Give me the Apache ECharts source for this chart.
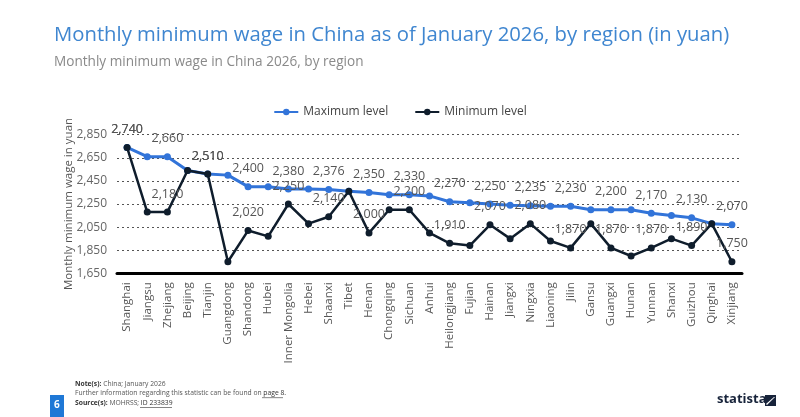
<!DOCTYPE html>
<html>
<head>
<meta charset="utf-8">
<script src="https://cdn.jsdelivr.net/npm/echarts@6/dist/echarts.min.js"></script>
<style>
html,body{margin:0;padding:0;background:#fff;}
#c{width:800px;height:417px;}
</style>
</head>
<body>
<div id="c"></div>
<script>
const regions = ["Shanghai","Jiangsu","Zhejiang","Beijing","Tianjin","Guangdong","Shandong","Hubei","Inner Mongolia","Hebei","Shaanxi","Tibet","Henan","Chongqing","Sichuan","Anhui","Heilongjiang","Fujian","Hainan","Jiangxi","Ningxia","Liaoning","Jilin","Gansu","Guangxi","Hunan","Yunnan","Shanxi","Guizhou","Qinghai","Xinjiang"];
const maximumLevel = [2740,2660,2660,2540,2510,2500,2400,2400,2380,2380,2376,2360,2350,2330,2330,2320,2270,2260,2250,2240,2235,2230,2230,2200,2200,2200,2170,2150,2130,2080,2070];
const minimumLevel = [2740,2180,2180,2540,2510,1750,2020,1970,2250,2080,2140,2360,2000,2200,2200,2000,1910,1890,2070,1950,2080,1930,1870,2080,1870,1800,1870,1950,1890,2080,1750];
const yTicks = [1650,1850,2050,2250,2450,2650,2850];

const font = 'Open Sans, Noto Sans, sans-serif';
const fmt = v => v.toLocaleString('en-US');
const labelFmt = p => (p.dataIndex % 2 === 0) ? fmt(p.value) : '';

const chart = echarts.init(document.getElementById('c'), null, {renderer:'canvas'});
chart.setOption({
  animation:false,
  backgroundColor:'#fff',
  title:[
    {text:'Monthly minimum wage in China as of January 2026, by region (in yuan)', left:49, top:20,
     textStyle:{color:'#3f86d0', fontSize:20.3, fontWeight:'normal', fontFamily:font}},
    {text:'Monthly minimum wage in China 2026, by region', left:49, top:50,
     textStyle:{color:'#8a8a8a', fontSize:13.6, fontWeight:'normal', fontFamily:font}}
  ],
  legend:{
    top:101, left:'center', itemWidth:24, itemHeight:8, itemGap:26,
    textStyle:{color:'#444', fontSize:12, fontFamily:font},
    data:['Maximum level','Minimum level']
  },
  grid:{left:117, right:58, top:134.7, bottom:143.7, containLabel:false},
  xAxis:{
    type:'category', data:regions, boundaryGap:true,
    axisLine:{show:true, lineStyle:{color:'#000', width:3}},
    axisTick:{show:false},
    axisLabel:{rotate:90, interval:0, color:'#555', fontSize:11.5, fontFamily:font, margin:9}
  },
  yAxis:{
    type:'value', min:1650, max:2850, interval:200,
    name:'Monthly minimum wage in yuan', nameLocation:'middle', nameGap:42, nameMoveOverlap:false,
    nameTextStyle:{color:'#555', fontSize:11.5, fontFamily:font},
    axisLine:{show:false}, axisTick:{show:false},
    axisLabel:{color:'#666', fontSize:12, fontFamily:font, margin:10, formatter:v=>fmt(v)},
    splitLine:{show:true, lineStyle:{color:'#555', type:[2,3], width:1}}
  },
  series:[
    {name:'Maximum level', type:'line', data:maximumLevel, symbol:'circle', symbolSize:7,
     itemStyle:{color:'#3274d9'}, lineStyle:{color:'#3274d9', width:3},
     label:{show:true, position:'top', distance:8, color:'#555', fontSize:12.5, fontFamily:font, formatter:labelFmt}, z:2},
    {name:'Minimum level', type:'line', data:minimumLevel, symbol:'circle', symbolSize:7,
     itemStyle:{color:'#0f1d2c'}, lineStyle:{color:'#0f1d2c', width:2.5},
     label:{show:true, position:'top', distance:8, color:'#555', fontSize:12.5, fontFamily:font, formatter:labelFmt}, z:3}
  ],
  graphic:[
    {type:'rect', left:50, top:395, shape:{width:14, height:22}, style:{fill:'#1f78d6'}},
    {type:'text', left:54, top:400, style:{text:'6', fill:'#fff', font:'bold 10px '+font}},
    {type:'text', left:75, top:379, style:{
      text:'{b|Note(s):} China; January 2026\nFurther information regarding this statistic can be found on {u|page 8.}\n{b|Source(s):} MOHRSS; {u|ID 233839}',
      fill:'#555', font:'6.75px '+font, lineHeight:9.5,
      rich:{b:{fontWeight:'bold', fill:'#333', fontSize:6.75, fontFamily:font}, u:{fill:'#333', fontSize:6.75, fontFamily:font}}
    }},
    {type:'rect', left:262, top:397.5, shape:{width:21, height:0.6}, style:{fill:'#333'}},
    {type:'rect', left:140, top:407, shape:{width:32, height:0.6}, style:{fill:'#333'}},
    {type:'text', left:717, top:393, style:{text:'statista', fill:'#17233a', font:'bold 13px '+font}},
    {type:'rect', left:765, top:395, shape:{width:11, height:11}, style:{fill:'#17233a'}},
    {type:'polygon', shape:{points:[[766,404],[774,397],[775,397],[767,405]]}, style:{fill:'#fff'}}
  ]
});
</script>
</body>
</html>
